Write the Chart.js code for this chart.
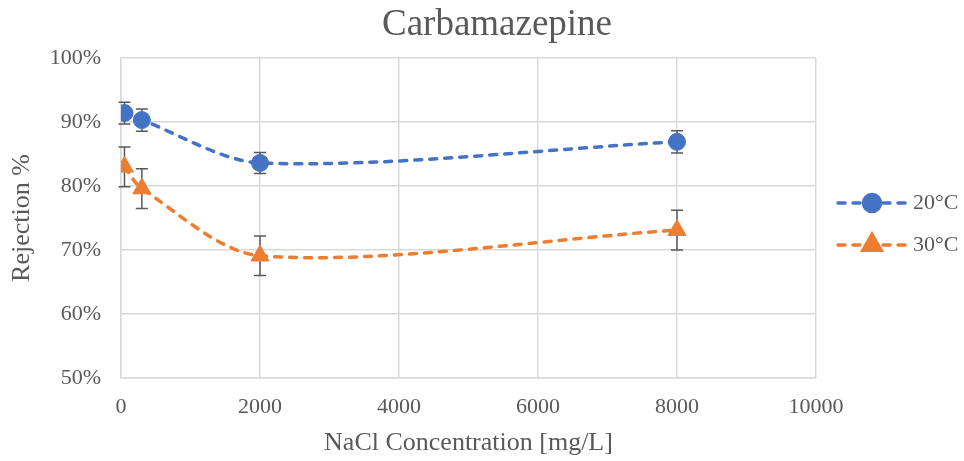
<!DOCTYPE html>
<html>
<head>
<meta charset="utf-8">
<title>Carbamazepine</title>
<script src="https://cdn.jsdelivr.net/npm/chart.js@4.4.0/dist/chart.umd.min.js"></script>
<style>
  html, body { margin: 0; padding: 0; background: #ffffff; }
  #chart-wrap { width: 964px; height: 461px; }
</style>
</head>
<body>
<div id="chart-wrap"><canvas id="rejectionChart" width="964" height="461"></canvas></div>
<script>
// NaCl concentration (mg/L)
const concentrations = [50, 300, 2000, 8000];

// Rejection % for each temperature
const rejection20 = [91.4, 90.3, 83.6, 86.9];
const rejection30 = [83.0, 79.6, 69.1, 73.1];

// Error bar half-widths (+/-)
const error20 = [1.7, 1.75, 1.65, 1.75];
const error30 = [3.1, 3.1, 3.1, 3.1];

const seriesLabels = ["20°C", "30°C"];
const chartTitle = "Carbamazepine";

const xTicks = [0, 2000, 4000, 6000, 8000, 10000];
const yTicks = [50, 60, 70, 80, 90, 100];

document.addEventListener("DOMContentLoaded", function () {
  const ctx = document.getElementById("rejectionChart").getContext("2d");

  const serif = '"Liberation Serif", "Times New Roman", serif';
  const textColor = "#595959";
  const gridColor = "#d9d9d9";
  const blue = "#4472c4";
  const orange = "#ed7d31";

  function toPoints(values) {
    return concentrations.map((x, i) => ({ x: x, y: values[i] }));
  }

  // Error bars, drawn under the markers
  const errorBars = {
    id: "errorBars",
    beforeDatasetsDraw(chart) {
      const c = chart.ctx;
      const yScale = chart.scales.y;
      c.save();
      c.strokeStyle = "#595959";
      c.lineWidth = 1.5;
      chart.data.datasets.forEach((ds, di) => {
        const meta = chart.getDatasetMeta(di);
        meta.data.forEach((pt, i) => {
          const v = ds.data[i].y;
          const e = ds.errors[i];
          const top = yScale.getPixelForValue(v + e);
          const bottom = yScale.getPixelForValue(v - e);
          c.beginPath();
          c.moveTo(pt.x, top);
          c.lineTo(pt.x, bottom);
          c.moveTo(pt.x - 6, top);
          c.lineTo(pt.x + 6, top);
          c.moveTo(pt.x - 6, bottom);
          c.lineTo(pt.x + 6, bottom);
          c.stroke();
        });
      });
      c.restore();
    }
  };

  // Title centred over the whole chart, and the legend on the right
  const titleAndLegend = {
    id: "titleAndLegend",
    afterDraw(chart) {
      const c = chart.ctx;
      const area = chart.chartArea;

      c.save();
      c.fillStyle = textColor;
      c.font = "37px " + serif;
      c.textAlign = "center";
      c.textBaseline = "middle";
      c.fillText(chartTitle, area.left + 376, 25);
      c.restore();

      const midY = (area.top + area.bottom) / 2 + 6;
      const x0 = area.right + 22;
      const x1 = x0 + 68;
      chart.data.datasets.forEach((ds, i) => {
        const y = midY + (i === 0 ? -21 : 21);
        c.save();
        c.strokeStyle = ds.borderColor;
        c.lineWidth = ds.borderWidth;
        c.lineCap = ds.borderCapStyle;
        c.setLineDash(ds.borderDash);
        c.beginPath();
        c.moveTo(x0, y);
        c.lineTo(x1, y);
        c.stroke();
        c.setLineDash([]);
        Chart.helpers.drawPoint(c, {
          pointStyle: ds.pointStyle,
          radius: ds.pointRadius,
          borderWidth: 1
        }, (x0 + x1) / 2, y);
        c.fillStyle = ds.backgroundColor;
        c.strokeStyle = ds.borderColor;
        c.lineWidth = 1;
        c.fill();
        c.stroke();
        c.fillStyle = textColor;
        c.font = "22px " + serif;
        c.textAlign = "left";
        c.textBaseline = "middle";
        c.fillText(ds.label, x1 + 7, y);
        c.restore();
      });
    }
  };

  const rejectionChart = new Chart(ctx, {
    type: "scatter",
    data: {
      datasets: [
        {
          label: seriesLabels[0],
          data: toPoints(rejection20),
          errors: error20,
          showLine: true,
          tension: 0.3,
          borderColor: blue,
          backgroundColor: blue,
          borderWidth: 3.5,
          borderDash: [7, 8],
          borderCapStyle: "round",
          pointStyle: "circle",
          pointRadius: 8.5,
          pointHoverRadius: 8.5,
          pointBorderWidth: 1
        },
        {
          label: seriesLabels[1],
          data: toPoints(rejection30),
          errors: error30,
          showLine: true,
          tension: 0.3,
          borderColor: orange,
          backgroundColor: orange,
          borderWidth: 3.5,
          borderDash: [7, 8],
          borderCapStyle: "round",
          pointStyle: "triangle",
          pointRadius: 10.5,
          pointHoverRadius: 10.5,
          pointBorderWidth: 1
        }
      ]
    },
    options: {
      responsive: false,
      animation: false,
      layout: { padding: { top: 58, left: 0, right: 148, bottom: 0 } },
      plugins: {
        legend: { display: false },
        tooltip: { enabled: false },
        title: { display: false }
      },
      scales: {
        x: {
          type: "linear",
          min: xTicks[0],
          max: xTicks[xTicks.length - 1],
          afterBuildTicks: (scale) => { scale.ticks = xTicks.map((v) => ({ value: v })); },
          afterFit: (scale) => { scale.height = 83; },
          grid: { color: gridColor, lineWidth: 1.5, drawTicks: false },
          border: { color: gridColor, width: 1.5 },
          ticks: {
            color: textColor,
            padding: 16,
            maxRotation: 0,
            font: { family: serif, size: 22 },
            callback: (v) => String(v)
          },
          title: {
            display: true,
            text: "NaCl Concentration [mg/L]",
            color: textColor,
            font: { family: serif, size: 26 },
            padding: { top: 0, bottom: 2 }
          }
        },
        y: {
          min: yTicks[0],
          max: yTicks[yTicks.length - 1],
          afterBuildTicks: (scale) => { scale.ticks = yTicks.map((v) => ({ value: v })); },
          afterFit: (scale) => { scale.width = 121; },
          grid: { color: gridColor, lineWidth: 1.5, drawTicks: false },
          border: { color: gridColor, width: 1.5 },
          ticks: {
            color: textColor,
            padding: 20,
            font: { family: serif, size: 22 },
            callback: (v) => v + "%"
          },
          title: {
            display: true,
            text: "Rejection %",
            color: textColor,
            font: { family: serif, size: 26 },
            padding: { top: 7, bottom: 0 }
          }
        }
      }
    },
    plugins: [errorBars, titleAndLegend]
  });
});
</script>
</body>
</html>
